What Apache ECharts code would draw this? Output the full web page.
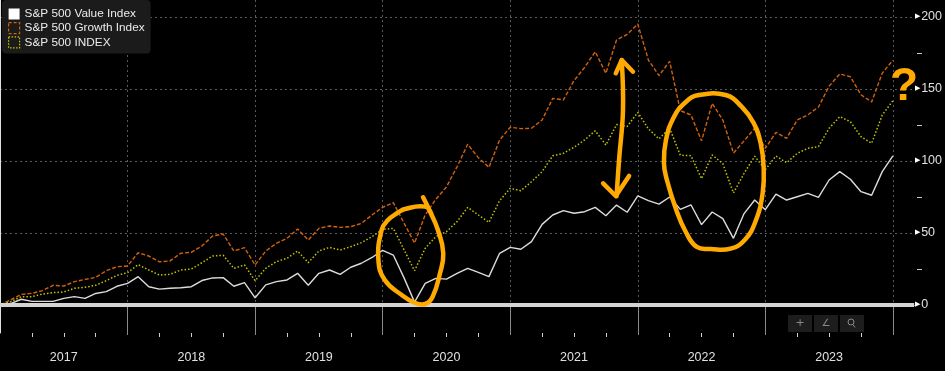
<!DOCTYPE html>
<html><head><meta charset="utf-8">
<script src="https://cdn.jsdelivr.net/npm/echarts@6/dist/echarts.min.js"></script>
<style>html,body{margin:0;padding:0;background:#000;}#c{width:945px;height:371px;}</style>
</head><body><div id="c"></div>
<script>
// ---- DATA (month-end cumulative % change since end of 2016; index 0 = Dec 2016) ----
const valueIdx = [0,1,4,2.5,2.5,2.5,4.6,5.8,4.6,8,9.3,13,15,19.7,12.7,11,11.6,12,12.7,17,18.8,19,13,15.5,5,14,16.2,17.4,22,13.7,22,24.3,21.3,26.2,29,33,38,34.7,19,2,15,18.5,18,22,25.5,22.7,19.7,35.9,40,38.7,44,56,62.5,65.5,63.7,64.8,67.8,62,69.4,64.4,75.8,72.5,70.1,75,66.4,69.6,55.8,64.6,60,46.3,63.5,72.9,66.2,77,72.9,75.2,77.5,74.8,86.8,92.6,87.3,78.7,76.2,92.6,103.5];
const growthIdx = [0,3.5,7.4,8.1,10,13.7,13.2,16.2,17.8,19.2,23.8,26.6,27.1,36.3,34,30,30.6,35.9,36.6,41,47.9,49.3,37.5,39.8,27.8,37.5,42.8,46.3,52.8,45.1,53.2,54.9,53.9,54.4,56.7,62.5,67.8,71.1,57,43,62.5,73.4,82,96,111.6,102.3,95.6,114.6,123.4,122.5,122.7,128.5,143.5,142.4,155.8,165,175.9,160.9,184,188,195.1,170.1,159.3,169.2,135,132,114,140,128.5,105.5,114,122.7,108.8,119.9,115.7,128.5,132,137.5,152,160.4,158.5,146,141,161,170];
const spxIdx = [0,2.3,5.8,5.8,7.6,8.6,9,11.6,12.3,13.7,16.9,20.6,22.5,28,24.3,20.8,21.3,24.3,25,29.4,34,34.5,25.5,27.8,16.9,25.5,30.1,32.4,37.5,29.4,37.5,40,38.2,40.5,43.3,47.5,52.5,53.2,38.5,23.8,39.4,47.5,50.9,57.9,67.8,62.5,57.4,72.5,81,79.4,85.6,92.6,103.7,105.3,109.5,114.6,121,111.1,125.3,124,133.7,122.3,115.4,122.7,104,103.7,87.7,104.2,98.2,77.8,91.4,103.3,94,103.5,98.8,105.3,108.8,110,122.7,130.8,127.3,116.9,112.3,131.9,141.9];
const seriesNames = ['S&P 500 Value Index','S&P 500 Growth Index','S&P 500 INDEX'];
const yearLabels = ['2017','2018','2019','2020','2021','2022','2023'];
const yTickLabels = [0,50,100,150,200];
const yMinorTicks = [25,75,125,175];

// ---- annotation sketches, in (month, value) data space ----
const circle2020 = [[39.8,74.8],[40.3,67.4],[41.2,52.1],[41.7,35.9],[41.4,22.2],[40.7,5.8],[40.0,0.7],[39.0,1.6],[37.8,6.9],[36.2,17.4],[35.6,31.3],[35.9,52.1],[36.5,59],[37.4,63.9],[38.1,66.7],[40.0,68.3],[40.6,63]];
const circle2022 = [[65.74,145.8],[68.27,145.8],[69.77,137.7],[70.9,126.4],[71.56,112.5],[71.84,95.8],[71.75,77.8],[71.09,58.3],[70.06,45.1],[68.74,39.2],[66.87,38.9],[65.55,40.3],[64.52,50.7],[63.59,66.7],[62.74,86.8],[62.46,98.6],[62.65,114.6],[63.4,130.6],[64.52,141]];
const arrowShaft = [[58.49,170.1],[58.61,135.4],[58.24,100.7],[58.0,75.5]];
const arrowHeadTop = [[57.93,160.9],[58.49,170.1],[59.55,162]];
const arrowHeadBottom = [[56.74,84.5],[57.93,75.7],[59.18,89.6]];
const questionAt = [85.06,151.4];

const monthIdx = valueIdx.map((_, i) => i);
const pairs = arr => arr.map((v, i) => [monthIdx[i], v]);
const yearCenters = yearLabels.map((_, i) => 6 + 12 * i);
const yearBounds = yearLabels.map((_, i) => 12 * (i + 1));
const quarterTicks = [];
for (let m = 3; m <= 84; m += 3) if (m % 12 !== 0) quarterTicks.push(m);

const YMIN = -19.44, YMAX = 211.8;
const GRID = {left: -1, right: 29, top: 0, bottom: 38};
const GRID_W = 945 - GRID.left - GRID.right;
const GRID_H = 371 - GRID.top - GRID.bottom;
const NARROW = '"Liberation Sans Narrow","Arial Narrow",sans-serif';
const ORANGE_ANN = '#ffaa00';

const chart = echarts.init(document.getElementById('c'), null, {renderer: 'canvas'});
chart.setOption({
  animation: false,
  backgroundColor: '#000',
  grid: GRID,
  legend: {
    left: 2, top: 0, orient: 'vertical',
    backgroundColor: '#1b1b1b', borderRadius: 4,
    padding: [8, 6, 5, 6], itemGap: 2, itemWidth: 11, itemHeight: 11,
    textStyle: {color: '#ececec', fontFamily: '"Liberation Sans",Arial,sans-serif', fontSize: 11.8},
    selectedMode: false,
    data: [
      {name: seriesNames[0], icon: 'rect', itemStyle: {color: '#ffffff', borderWidth: 0}},
      {name: seriesNames[1], icon: 'rect', itemStyle: {color: 'rgba(0,0,0,0)', borderColor: '#d2620c', borderWidth: 1.2, borderType: [3, 2]}},
      {name: seriesNames[2], icon: 'rect', itemStyle: {color: 'rgba(0,0,0,0)', borderColor: '#c8c800', borderWidth: 1.2, borderType: [1.5, 1.5]}}
    ]
  },
  xAxis: [{
    type: 'value', min: 0, max: 86, interval: 12, position: 'bottom',
    axisLine: {show: true, lineStyle: {color: '#e0e0e0', width: 1}},
    axisTick: {show: true, customValues: yearBounds, length: 30, lineStyle: {color: '#8a8a8a', width: 1}},
    axisLabel: {customValues: yearCenters, formatter: v => yearLabels[yearCenters.indexOf(v)],
      margin: 18, color: '#e0e0e0', fontFamily: NARROW, fontSize: 12.5},
    splitLine: {show: true, lineStyle: {color: '#5a5a5a', type: [2, 3], width: 1}}
  }, {
    // quarterly ticks drawn on the bottom edge (a top axis shifted down by the grid height)
    type: 'value', min: 0, max: 86, position: 'top', offset: -GRID_H,
    axisLine: {show: false}, axisLabel: {show: false}, splitLine: {show: false},
    axisTick: {show: true, inside: true, customValues: quarterTicks, length: 4, lineStyle: {color: '#cfcfcf'}}
  }],
  yAxis: [{
    type: 'value', position: 'right', min: YMIN, max: YMAX,
    axisLine: {show: true, lineStyle: {color: '#e0e0e0', width: 1}},
    axisTick: {show: false, customValues: [50, 100, 150, 200]},
    axisLabel: {customValues: yTickLabels, margin: 1,
      formatter: v => '{t|\u25B6}{n|' + v + '}',
      rich: {t: {fontSize: 7, color: '#ffffff', padding: [0, 1, 1, 0]},
             n: {fontSize: 12.5, color: '#e0e0e0', fontFamily: NARROW}}},
    splitLine: {show: true, lineStyle: {color: '#5a5a5a', type: [2, 3], width: 1}}
  }, {
    // minor 25-step ticks on the right edge (a left axis shifted right by the grid width)
    type: 'value', position: 'left', offset: -GRID_W, min: YMIN, max: YMAX,
    axisLine: {show: false}, axisLabel: {show: false}, splitLine: {show: false},
    axisTick: {show: true, inside: true, customValues: yMinorTicks, length: 5, lineStyle: {color: '#d0d0d0'}}
  }],
  series: [
    {type: 'line', name: '_zero', data: [], z: 1, silent: true,
     markLine: {silent: true, symbol: 'none', label: {show: false},
       lineStyle: {color: '#d4d4d4', width: 4, type: 'solid'},
       data: [{yAxis: 0}]}},
    {type: 'line', name: seriesNames[0], data: pairs(valueIdx), showSymbol: false, z: 4,
     lineStyle: {color: '#dcdcdc', width: 1.4}, itemStyle: {color: '#ffffff'}},
    {type: 'line', name: seriesNames[1], data: pairs(growthIdx), showSymbol: false, z: 3,
     lineStyle: {color: '#d2620c', width: 1.4, type: [4, 2]}, itemStyle: {color: '#d2620c'}},
    {type: 'line', name: seriesNames[2], data: pairs(spxIdx), showSymbol: false, z: 3,
     lineStyle: {color: '#c4c400', width: 1.5, type: [1.5, 2]}, itemStyle: {color: '#c4c400'}}
  ]
});

const px = p => chart.convertToPixel({gridIndex: 0}, p);
const annStyle = {stroke: ORANGE_ANN, lineWidth: 4.5, fill: null, lineCap: 'round', lineJoin: 'round'};
const q = px(questionAt);
const btnX = 788, btnY = 315;
chart.setOption({graphic: [
  {type: 'polyline', z: 100, shape: {points: circle2020.map(px), smooth: 0.45}, style: annStyle},
  {type: 'polygon', z: 100, shape: {points: circle2022.map(px), smooth: 0.45}, style: annStyle},
  {type: 'polyline', z: 100, shape: {points: arrowShaft.map(px), smooth: 0.4}, style: annStyle},
  {type: 'polyline', z: 100, shape: {points: arrowHeadTop.map(px)}, style: annStyle},
  {type: 'polyline', z: 100, shape: {points: arrowHeadBottom.map(px)}, style: annStyle},
  {type: 'text', z: 100, x: q[0], y: q[1], style: {text: '?', fill: ORANGE_ANN,
    font: 'bold 46px "Liberation Sans Narrow","Arial Narrow",sans-serif', align: 'center', verticalAlign: 'middle'}},
  {type: 'rect', z: 90, shape: {x: btnX, y: btnY, width: 24, height: 17}, style: {fill: '#1d1d1d'}},
  {type: 'rect', z: 90, shape: {x: btnX + 26, y: btnY, width: 24, height: 17}, style: {fill: '#1d1d1d'}},
  {type: 'rect', z: 90, shape: {x: btnX + 52, y: btnY, width: 24, height: 17}, style: {fill: '#1d1d1d'}},
  {type: 'text', z: 91, x: btnX + 12, y: btnY + 8.5, style: {text: '+', fill: '#8a8a8a', font: '11px "DejaVu Sans"', align: 'center', verticalAlign: 'middle'}},
  {type: 'text', z: 91, x: btnX + 38, y: btnY + 8.5, style: {text: '\u2220', fill: '#8a8a8a', font: '10px "DejaVu Sans"', align: 'center', verticalAlign: 'middle'}},
  {type: 'circle', z: 91, shape: {cx: btnX + 63, cy: btnY + 7, r: 3}, style: {stroke: '#8a8a8a', fill: null, lineWidth: 1}},
  {type: 'line', z: 91, shape: {x1: btnX + 65, y1: btnY + 9.5, x2: btnX + 67, y2: btnY + 12.5}, style: {stroke: '#8a8a8a', lineWidth: 1}}
]});
</script></body></html>
